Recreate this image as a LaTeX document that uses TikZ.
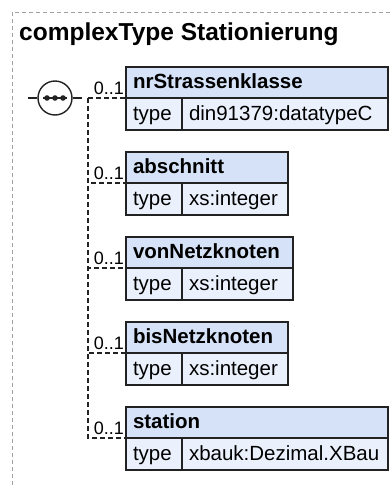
\documentclass[tikz,border=0pt]{standalone}
\usepackage{fontspec}
\setmainfont{Liberation Sans}
\usepackage{xcolor}
\usetikzlibrary{positioning}
\definecolor{hdrblue}{RGB}{213,226,247}
\definecolor{rowblue}{RGB}{235,241,252}
\definecolor{boxline}{RGB}{34,34,34}
\definecolor{framegray}{RGB}{160,160,160}
\tikzset{
  elemhead/.style={rectangle, draw=boxline, line width=1.3pt, fill=hdrblue,
                   anchor=north west, outer sep=0pt, inner xsep=7pt, inner ysep=0pt,
                   minimum height=31pt, text height=15pt, text depth=3pt,
                   align=left, text width=#1, font=\bfseries\fontsize{20.5}{24}\selectfont},
  typekey/.style={rectangle, draw=boxline, line width=1.3pt, fill=rowblue,
                  anchor=north west, outer sep=0pt, inner xsep=7pt, inner ysep=0pt,
                  minimum height=32pt, text height=15pt, text depth=3pt,
                  align=left, text width=42pt, font=\fontsize{20.5}{24}\selectfont},
  typeval/.style={typekey, text width=#1}
}
\begin{document}
\begin{tikzpicture}[x=1pt, y=-1pt,
    seq/.style={circle, draw=boxline, line width=1.4pt, fill=white,
                minimum size=34pt, inner sep=0pt},
    stub/.style={draw=boxline, line width=1.4pt},
    conn/.style={draw=boxline, line width=1.2pt, dash pattern=on 5pt off 3pt},
    card/.style={font=\fontsize{18}{20}\selectfont, inner sep=0pt, anchor=base east}
  ]
  \useasboundingbox (0,0) rectangle (390,488);

  % Frame and title
  \draw[framegray, line width=1pt, dash pattern=on 4pt off 3pt]
    (390,12) -- (12,12) -- (12,488);
  \node[anchor=base west, inner sep=0pt,
        font=\bfseries\fontsize{24.5}{28}\selectfont] (title) at (19,40)
        {complexType Stationierung};

  % Sequence compositor
  \node[seq] (seq) at (55,98) {};
  \draw[stub] (seq.center) +(-12,0) -- +(12,0);
  \foreach \dx in {-8,0,8}
    \fill[boxline] ([xshift=\dx pt]seq.center) circle (2.8pt);
  \draw[stub] (seq.west) -- ++(-9,0);
  \draw[stub] (seq.east) -- ++(9,0);
  \coordinate (fork) at (88,98);

  % Element nrStrassenklasse
  \node[elemhead=248pt] (h1) at (126,67) {nrStrassenklasse};
  \node[typekey] (k1) at (h1.south west) {type};
  \node[typeval=192pt] (v1) at (k1.north east) {din91379:datatypeC};

  % Element abschnitt
  \node[elemhead=148pt] (h2) at (126,152) {abschnitt};
  \node[typekey] (k2) at (h2.south west) {type};
  \node[typeval=92pt] (v2) at (k2.north east) {xs:integer};

  % Element vonNetzknoten
  \node[elemhead=153pt] (h3) at (126,237) {vonNetzknoten};
  \node[typekey] (k3) at (h3.south west) {type};
  \node[typeval=97pt] (v3) at (k3.north east) {xs:integer};

  % Element bisNetzknoten
  \node[elemhead=148pt] (h4) at (126,322) {bisNetzknoten};
  \node[typekey] (k4) at (h4.south west) {type};
  \node[typeval=92pt] (v4) at (k4.north east) {xs:integer};

  % Element station
  \node[elemhead=248pt] (h5) at (126,407) {station};
  \node[typekey] (k5) at (h5.south west) {type};
  \node[typeval=192pt] (v5) at (k5.north east) {xbauk:Dezimal.XBau};

  % Connectors and cardinalities
  \foreach \i in {1,...,5} {
    \draw[conn] (fork) |- (k\i.north west);
    \node[card] (m\i) at ([shift={(-2,-4)}]k\i.north west) {0..1};
  }
\end{tikzpicture}
\end{document}
